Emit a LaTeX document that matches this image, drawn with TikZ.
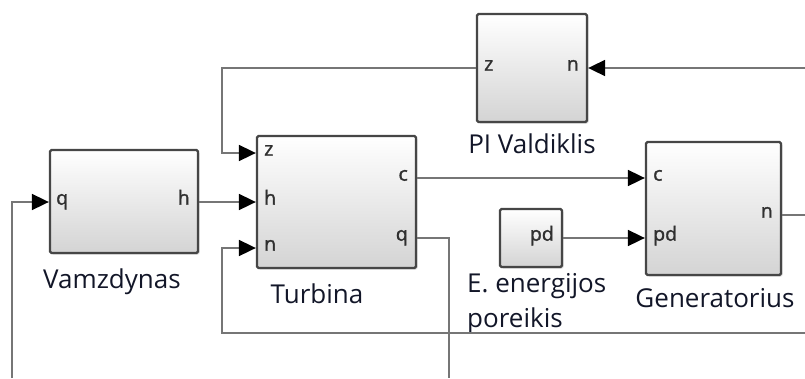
\documentclass[tikz,border=0pt]{standalone}
\usepackage{fontspec}
\setmainfont{Open Sans}
\newfontfamily\portfont[FakeBold=1.6]{Open Sans}
\usetikzlibrary{arrows.meta,shadows}
\definecolor{wire}{RGB}{118,118,118}
\definecolor{frame}{RGB}{70,70,70}
\definecolor{blockname}{RGB}{18,22,40}
\definecolor{portname}{RGB}{48,48,48}
\begin{document}
\begin{tikzpicture}[x=1pt,y=-1pt,
  block/.style={draw=frame, line width=2.3pt, rounded corners=1.5pt,
    top color=white, bottom color=black!17,
    drop shadow={shadow xshift=1.5pt, shadow yshift=-1.5pt, opacity=0.3},
    inner sep=0pt},
  port/.style={text=portname, font=\portfont\fontsize{19.5}{22}\selectfont,
    inner sep=0pt, text height=1ex, text depth=0pt},
  bname/.style={text=blockname, font=\fontsize{26}{30}\selectfont, inner sep=0pt},
  wire/.style={draw=wire, line width=1.8pt},
  sig/.style={wire, -{Triangle[length=17pt,width=16pt,color=black]}}
]
\useasboundingbox (0,0) rectangle (805,378);

% blocks
\node[block, minimum width=148pt, minimum height=103pt] (vam) at (124,201.5) {};
\node[block, minimum width=159pt, minimum height=132pt] (tur) at (336.5,202) {};
\node[block, minimum width=110pt, minimum height=108pt] (pi)  at (532,68) {};
\node[block, minimum width=135pt, minimum height=133pt] (gen) at (713.5,208.5) {};
\node[block, minimum width=62pt,  minimum height=58pt]  (ee)  at (531,238) {};

% port names
\node[port, anchor=west] (vq)  at (56,202)  {q};
\node[port, anchor=east] (vh)  at (190,202) {h};
\node[port, anchor=west] (tz)  at (264,153) {z};
\node[port, anchor=west] (th)  at (264,202) {h};
\node[port, anchor=west] (tn)  at (264,248) {n};
\node[port, anchor=east] (tc)  at (408,178) {c};
\node[port, anchor=east] (tq)  at (408,238) {q};
\node[port, anchor=west] (pz)  at (484,68)  {z};
\node[port, anchor=east] (pn)  at (579,68)  {n};
\node[port, anchor=west] (gc)  at (653,178) {c};
\node[port, anchor=west] (gpd) at (653,238) {pd};
\node[port, anchor=east] (gn)  at (773,215) {n};
\node[port, anchor=east] (epd) at (554,238) {pd};

% block names
\node[bname, anchor=base] (lvam) at (112,288) {Vamzdynas};
\node[bname, anchor=base] (ltur) at (317,303) {Turbina};
\node[bname, anchor=base] (lpi)  at (532,153) {PI Valdiklis};
\node[bname, anchor=base] (lgen) at (715,307) {Generatorius};
\node[bname, anchor=base west] (lee1) at (467,292) {E. energijos};
\node[bname, anchor=base west] (lee2) at (467,327) {poreikis};

% wire ends and bends
\coordinate (lx)     at (222,0);
\coordinate (qin)    at (12,378);
\coordinate (qout)   at (449,378);
\coordinate (nin)    at (805,68);
\coordinate (nout)   at (805,215);
\coordinate (nback)  at (805,333);

% signals
\draw[sig] (qin) |- (vam.west |- vq);
\draw[sig] (vam.east |- vh) -- (tur.west |- th);
\draw[sig] (pi.west |- pz) -| (lx |- tz) -- (tur.west |- tz);
\draw[sig] (nback) -| (lx |- tn) -- (tur.west |- tn);
\draw[sig] (tur.east |- tc) -- (gen.west |- gc);
\draw[wire] (tur.east |- tq) -| (qout);
\draw[sig] (ee.east |- epd) -- (gen.west |- gpd);
\draw[wire] (gen.east |- gn) -- (nout);
\draw[sig] (nin) -- (pi.east |- pn);
\end{tikzpicture}
\end{document}
